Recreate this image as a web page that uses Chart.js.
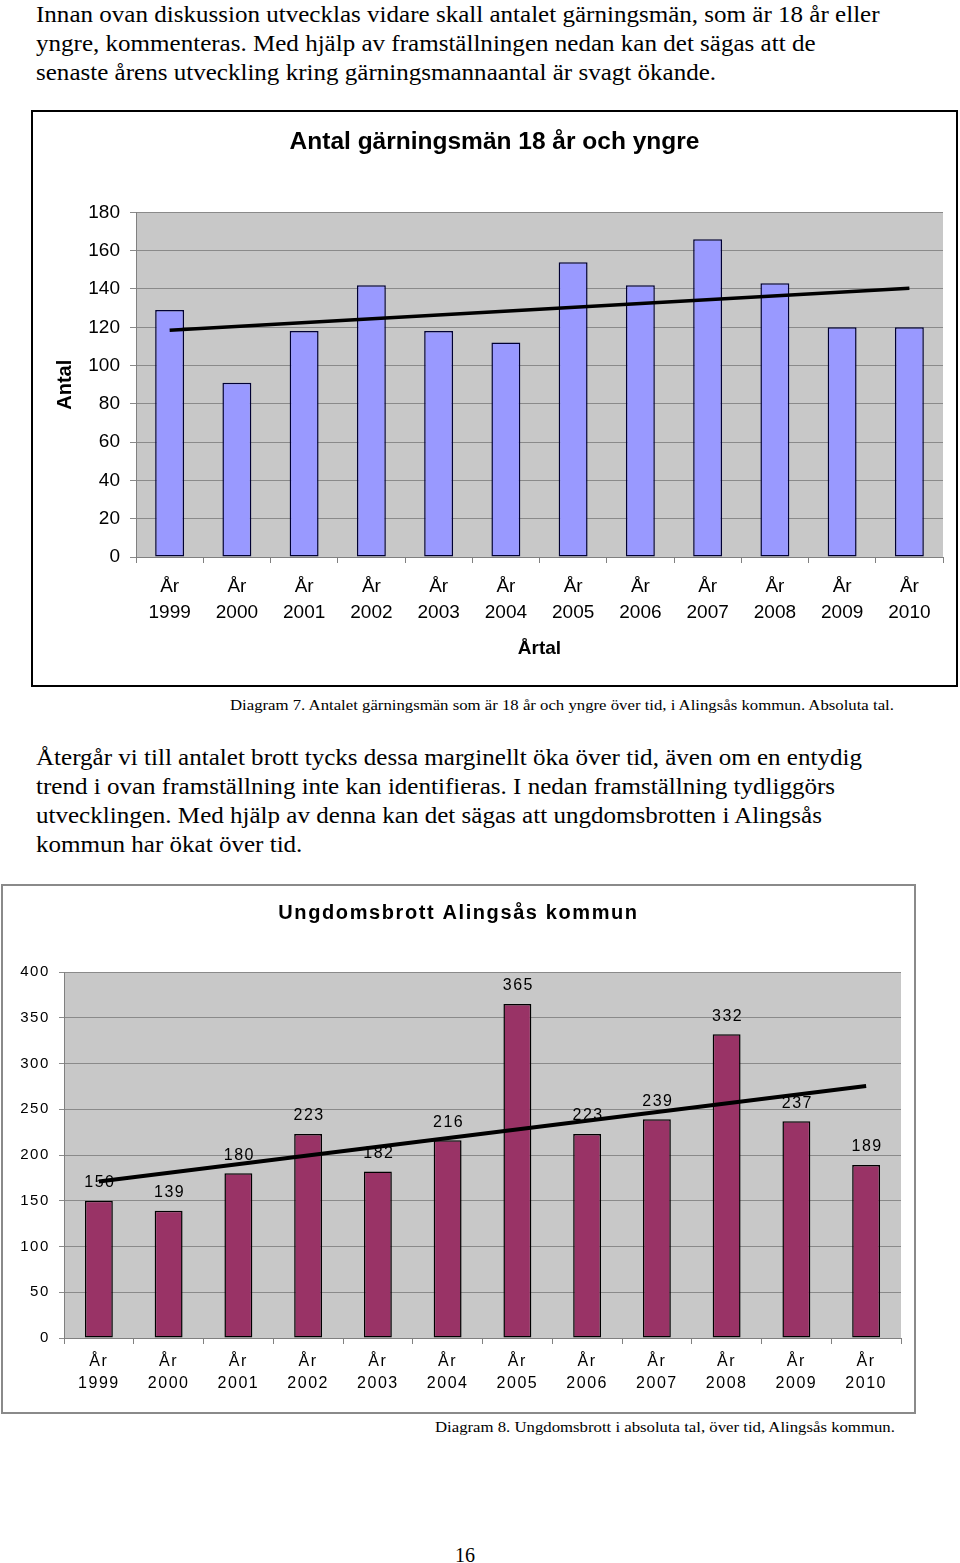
<!DOCTYPE html>
<html>
<head>
<meta charset="utf-8">
<script src="https://cdn.jsdelivr.net/npm/chart.js@4.4.1/dist/chart.umd.min.js"></script>
<style>
  html, body { margin: 0; padding: 0; background: #fff; }
  body { width: 960px; height: 1563px; position: relative; overflow: hidden; }
  .serif { position: absolute; font-family: "Liberation Serif", "Times New Roman", serif; color: #000; white-space: nowrap; transform-origin: 0 0; }
  .p { font-size: 22.5px; line-height: 29px; left: 36px; transform: scaleX(1.113); }
  .cap { font-size: 15.5px; line-height: 18px; transform: scaleX(1.08); }
  #box1 { position: absolute; left: 31px; top: 110px; width: 923px; height: 573px; border: 2px solid #000; background: #fff; }
  #box2 { position: absolute; left: 1px; top: 884px; width: 911px; height: 526px; border: 2px solid #8a8a8a; background: #fff; }
  canvas { display: block; }
</style>
</head>
<body>
<div class="serif p" style="top:0px;">Innan ovan diskussion utvecklas vidare skall antalet gärningsmän, som är 18 år eller<br>yngre, kommenteras. Med hjälp av framställningen nedan kan det sägas att de<br>senaste årens utveckling kring gärningsmannaantal är svagt ökande.</div>

<div id="box1"><canvas id="chart1" width="923" height="573"></canvas></div>

<div class="serif cap" style="top:696px; left:230px;">Diagram 7. Antalet gärningsmän som är 18 år och yngre över tid, i Alingsås kommun. Absoluta tal.</div>

<div class="serif p" style="top:743px;">Återgår vi till antalet brott tycks dessa marginellt öka över tid, även om en entydig<br>trend i ovan framställning inte kan identifieras. I nedan framställning tydliggörs<br>utvecklingen. Med hjälp av denna kan det sägas att ungdomsbrotten i Alingsås<br>kommun har ökat över tid.</div>

<div id="box2"><canvas id="chart2" width="911" height="526"></canvas></div>

<div class="serif cap" style="top:1418px; left:435px;">Diagram 8. Ungdomsbrott i absoluta tal, över tid, Alingsås kommun.</div>

<div class="serif" style="top:1543px; left:455px; font-size:20px; line-height:24px;">16</div>

<script>
// ---------- DATA ----------
const years = ['1999','2000','2001','2002','2003','2004','2005','2006','2007','2008','2009','2010'];
const yearPrefix = 'År';

// Chart 1: Antal gärningsmän 18 år och yngre
const offenders = [129, 91, 118, 142, 118, 112, 154, 142, 166, 143, 120, 120];
const offendersTrendStart = 118.4;   // trend line value at År 1999
const offendersTrendEnd = 140.4;     // trend line value at År 2010
const offendersTicks = [0, 20, 40, 60, 80, 100, 120, 140, 160, 180];

// Chart 2: Ungdomsbrott Alingsås kommun
const crimes = [150, 139, 180, 223, 182, 216, 365, 223, 239, 332, 237, 189];
const crimesTrendStart = 171.0;      // trend line value at År 1999
const crimesTrendEnd = 275.5;        // trend line value at År 2010
const crimesTicks = [0, 50, 100, 150, 200, 250, 300, 350, 400];

// ---------- HELPERS ----------
const labels = years.map(y => [yearPrefix, y]);
function trendSeries(start, end) {
  return years.map((_, i) => i === 0 ? start : (i === years.length - 1 ? end : null));
}
const SANS = '"Liberation Sans", Arial, sans-serif';

const plotBg = {
  id: 'plotBg',
  beforeDraw(chart, args, opts) {
    const { ctx, chartArea: { left, top, width, height } } = chart;
    ctx.save();
    ctx.fillStyle = opts.color;
    ctx.fillRect(left, top, width, height);
    ctx.restore();
  }
};

// ---------- CHART 1 ----------
new Chart(document.getElementById('chart1'), {
  type: 'bar',
  data: {
    labels,
    datasets: [
      {
        type: 'line',
        data: trendSeries(offendersTrendStart, offendersTrendEnd),
        borderColor: '#000',
        borderWidth: 3.5,
        pointRadius: 0,
        spanGaps: true,
        order: 0
      },
      {
        type: 'bar',
        data: offenders,
        backgroundColor: '#9999FF',
        borderColor: '#000033',
        borderWidth: 1.5,
        borderSkipped: false,
        barPercentage: 0.43,
        categoryPercentage: 1.0,
        order: 1
      }
    ]
  },
  options: {
    responsive: false,
    animation: false,
    devicePixelRatio: 1,
    layout: { padding: { left: 13, right: 13, top: 0, bottom: 0 } },
    plugins: {
      legend: { display: false },
      tooltip: { enabled: false },
      plotBg: { color: '#C8C8C8' },
      title: {
        display: true,
        text: 'Antal gärningsmän 18 år och yngre',
        color: '#000',
        font: { family: SANS, size: 24.5, weight: 'bold', lineHeight: 1.2 },
        padding: { top: 16, bottom: 55 }
      }
    },
    scales: {
      x: {
        afterFit(scale) { scale.height = 128; },
        grid: { display: true, drawOnChartArea: false, drawTicks: true, tickLength: 6, color: '#808080', offset: true },
        border: { display: true, color: '#808080', width: 1 },
        ticks: { color: '#000', font: { family: SANS, size: 19, lineHeight: 1.4 }, padding: 10, maxRotation: 0, autoSkip: false },
        title: {
          display: true, text: 'Årtal', color: '#000',
          font: { family: SANS, size: 19, weight: 'bold', lineHeight: 1.2 },
          padding: { top: 0, bottom: 25 }
        }
      },
      y: {
        min: 0, max: 180,
        afterFit(scale) { scale.width = 90; },
        afterBuildTicks(scale) { scale.ticks = offendersTicks.map(v => ({ value: v })); },
        grid: { color: '#8a8a8a', lineWidth: 1, tickLength: 6, drawTicks: true },
        border: { display: true, color: '#808080', width: 1 },
        ticks: { color: '#000', font: { family: SANS, size: 19 }, padding: 10 },
        title: {
          display: true, text: 'Antal', color: '#000',
          font: { family: SANS, size: 20, weight: 'bold', lineHeight: 1.2 },
          padding: { top: 7, bottom: 0 }
        }
      }
    }
  },
  plugins: [plotBg]
});

// ---------- CHART 2 ----------
const SPACING = '1.6px';
const letterSpacing = {
  id: 'letterSpacing',
  beforeLayout(chart) { chart.ctx.letterSpacing = SPACING; },
  beforeDraw(chart) { chart.ctx.letterSpacing = SPACING; }
};
const valueLabels = {
  id: 'valueLabels',
  afterDatasetDraw(chart, args) {
    if (args.index !== 1) return;
    const { ctx } = chart;
    ctx.save();
    ctx.letterSpacing = SPACING;
    ctx.font = '16px ' + SANS;
    ctx.fillStyle = '#000';
    ctx.textAlign = 'center';
    ctx.textBaseline = 'middle';
    args.meta.data.forEach((bar, i) => {
      ctx.fillText(String(crimes[i]), bar.x + 1, bar.y - 18);
    });
    ctx.restore();
  }
};

new Chart(document.getElementById('chart2'), {
  type: 'bar',
  data: {
    labels,
    datasets: [
      {
        type: 'line',
        data: trendSeries(crimesTrendStart, crimesTrendEnd),
        borderColor: '#000',
        borderWidth: 4,
        pointRadius: 0,
        spanGaps: true,
        order: 0
      },
      {
        type: 'bar',
        data: crimes,
        backgroundColor: '#993366',
        borderColor: '#000',
        borderWidth: 1.5,
        borderSkipped: false,
        barPercentage: 0.40,
        categoryPercentage: 1.0,
        order: 1
      }
    ]
  },
  options: {
    responsive: false,
    animation: false,
    devicePixelRatio: 1,
    layout: { padding: { left: 13, right: 13, top: 0, bottom: 0 } },
    plugins: {
      legend: { display: false },
      tooltip: { enabled: false },
      plotBg: { color: '#C8C8C8' },
      title: {
        display: true,
        text: 'Ungdomsbrott Alingsås kommun',
        color: '#000',
        font: { family: SANS, size: 20, weight: 'bold', lineHeight: 1.2 },
        padding: { top: 15, bottom: 47 }
      }
    },
    scales: {
      x: {
        afterFit(scale) { scale.height = 74; },
        grid: { display: true, drawOnChartArea: false, drawTicks: true, tickLength: 6, color: '#808080', offset: true },
        border: { display: true, color: '#808080', width: 1 },
        ticks: { color: '#000', font: { family: SANS, size: 16, lineHeight: 1.375 }, padding: 7, maxRotation: 0, autoSkip: false }
      },
      y: {
        min: 0, max: 400,
        afterFit(scale) { scale.width = 48; },
        afterBuildTicks(scale) { scale.ticks = crimesTicks.map(v => ({ value: v })); },
        grid: { color: '#8a8a8a', lineWidth: 1, tickLength: 5, drawTicks: true },
        border: { display: true, color: '#808080', width: 1 },
        ticks: { color: '#000', font: { family: SANS, size: 15 }, padding: 9 }
      }
    }
  },
  plugins: [plotBg, letterSpacing, valueLabels]
});
</script>
</body>
</html>
